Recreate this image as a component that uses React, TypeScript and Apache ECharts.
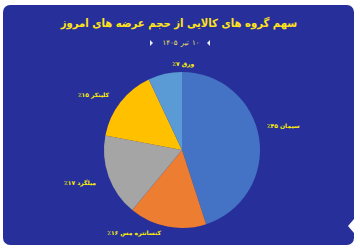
import React, { useEffect, useRef } from "react";
import * as echarts from "echarts";

const categories = ["سیمان", "کنسانتره مس", "میلگرد", "کلینکر", "ورق"];
const shares = [45, 16, 17, 15, 7];
const colors = ["#4472c4", "#ed7d31", "#a5a5a5", "#ffc000", "#5b9bd5"];
const titleText = "سهم گروه های کالایی از حجم عرضه های امروز";
const dateDay = "۱۰";
const dateMonth = "تیر";
const dateYear = "۱۴۰۵";

const toFa = (n: number) =>
  String(n).replace(/[0-9]/g, (d) => "۰۱۲۳۴۵۶۷۸۹"[Number(d)]);

export default function App() {
  const ref = useRef<HTMLDivElement>(null);
  useEffect(() => {
    document.body.style.margin = "0";
    const chart = echarts.init(ref.current!, null, { renderer: "svg" });
    const font = "DejaVu Sans";
    const labelShift: Record<number, { dx: number; dy: number }> = {
      0: { dx: -5, dy: -11 },
      1: { dx: 0, dy: -2 },
      2: { dx: 0, dy: 3 },
      3: { dx: 0, dy: -3 },
      4: { dx: 36, dy: -3 },
    };
    chart.setOption({
      animation: false,
      backgroundColor: "#ffffff",
      graphic: [
        {
          type: "rect",
          shape: { x: 3, y: 5, width: 351, height: 240, r: 7 },
          style: { fill: "#27309a" },
          z: -10,
        },
        {
          type: "polygon",
          shape: { points: [[354, 219], [348, 226], [354, 233]] },
          style: { fill: "#ffffff" },
          z: -9,
        },
        {
          type: "polygon",
          shape: { points: [[150, 40], [153, 43], [150, 46]] },
          style: { fill: "#e8ecff" },
        },
        {
          type: "polygon",
          shape: { points: [[210, 40], [207, 43], [210, 46]] },
          style: { fill: "#e8ecff" },
        },
        {
          type: "text",
          x: 179,
          y: 23,
          style: {
            text: titleText,
            fill: "#ffe31a",
            font: "bold 11.2px 'DejaVu Sans Condensed'",
            align: "center",
            verticalAlign: "middle",
          },
        },
        {
          type: "text",
          x: 181,
          y: 43,
          style: {
            text: "{t|" + dateYear + "} {t|" + dateMonth + "} {t|" + dateDay + "}",
            align: "center",
            verticalAlign: "middle",
            rich: {
              t: { fill: "#f2e060", fontSize: 7, fontFamily: font },
            },
          },
        },
      ],
      series: [
        {
          type: "pie",
          center: [182, 150],
          radius: 78,
          startAngle: 90,
          clockwise: true,
          silent: true,
          data: categories.map((name, i) => ({
            name,
            value: shares[i],
            itemStyle: { color: colors[i] },
          })),
          label: {
            show: true,
            position: "outside",
            color: "#fff200",
            fontSize: 6,
            fontWeight: "bold",
            fontFamily: font,
            formatter: (p: any) => "{v|٪" + toFa(p.value) + "} {n|" + p.name + "}",
            rich: {
              v: { color: "#fff200", fontSize: 6, fontWeight: "bold", fontFamily: font },
              n: { color: "#fff200", fontSize: 6, fontWeight: "bold", fontFamily: font },
            },
          },
          labelLine: { show: false, length: 8, length2: 0 },
          labelLayout: (p: any) => labelShift[p.dataIndex] || {},
        },
      ],
    });
    return () => chart.dispose();
  }, []);
  return <div ref={ref} style={{ width: 360, height: 252 }} />;
}
